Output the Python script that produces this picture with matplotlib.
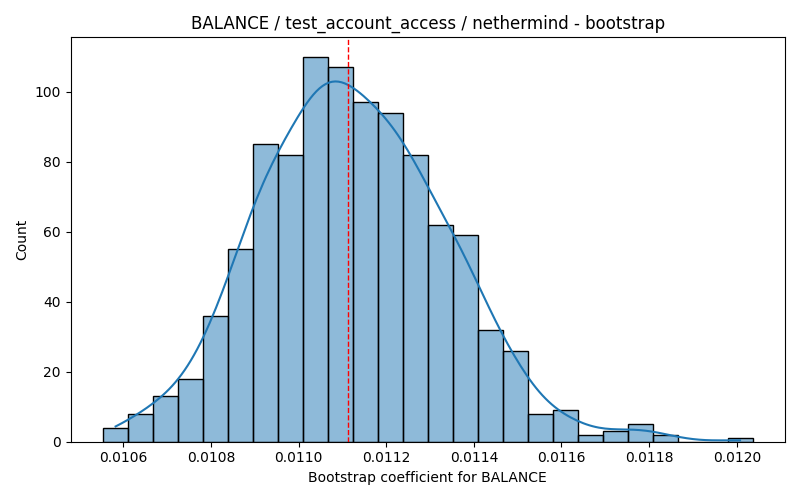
import numpy as np
import matplotlib
matplotlib.use("Agg")
import matplotlib.pyplot as plt
import seaborn as sns

# histogram: 26 bins
bin_lo = 0.010554
bin_hi = 0.012036
counts = [4, 8, 13, 18, 36, 55, 85, 82, 110, 107, 97, 94, 82,
          62, 59, 32, 26, 8, 9, 2, 3, 5, 2, 0, 0, 1]
mean_line = 0.011113

title = "BALANCE / test_account_access / nethermind - bootstrap"
xlabel = "Bootstrap coefficient for BALANCE"

edges = np.linspace(bin_lo, bin_hi, len(counts) + 1)
centers = (edges[:-1] + edges[1:]) / 2
samples = np.repeat(centers, counts)

fig, ax = plt.subplots(figsize=(8, 5), dpi=100)
sns.histplot(x=samples, bins=edges, kde=True, kde_kws={"bw_adjust": 1.1}, ax=ax)
ax.axvline(mean_line, color="red", linestyle="--", linewidth=1)
ax.set_title(title)
ax.set_xlabel(xlabel)
ax.set_ylabel("Count")
plt.tight_layout()
plt.savefig("out.png")
